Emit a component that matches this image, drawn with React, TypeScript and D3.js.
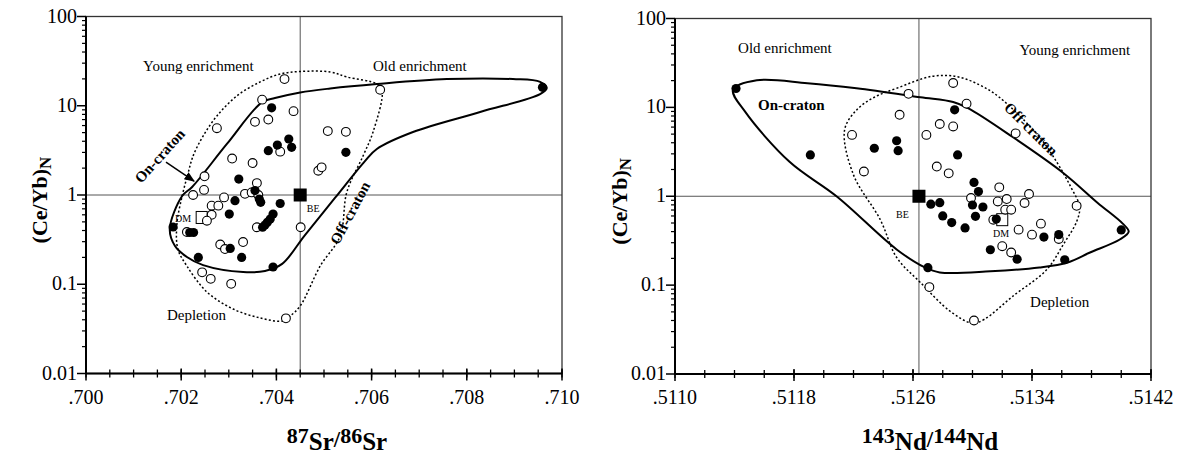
import React, { useEffect, useRef } from 'react';
import * as d3 from 'd3';

type Pt = [number, number];

// ---- 87Sr/86Sr panel ----
const srOpen: Pt[] = [
  [0.70417, 19.9], [0.7037, 11.7], [0.70436, 8.7], [0.70355, 6.6], [0.70383, 7.0],
  [0.70275, 5.6], [0.70508, 5.2], [0.70546, 5.1], [0.70618, 15.1], [0.70408, 3.06],
  [0.70307, 2.56], [0.7035, 2.28], [0.70488, 1.87], [0.70495, 2.04], [0.70249, 1.62],
  [0.70359, 1.36], [0.70225, 1.0], [0.70248, 1.14], [0.70334, 1.03], [0.70348, 1.07],
  [0.70362, 1.0], [0.7029, 0.94], [0.70264, 0.76], [0.70278, 0.76], [0.70264, 0.6],
  [0.70254, 0.515], [0.70359, 0.435], [0.70451, 0.435], [0.70212, 0.385], [0.70282, 0.279],
  [0.70292, 0.248], [0.7033, 0.297], [0.70244, 0.136], [0.70262, 0.115], [0.70305, 0.101],
  [0.7042, 0.0415],
];
const srFilled: Pt[] = [
  [0.7039, 9.49], [0.70426, 4.24], [0.70402, 3.63], [0.70383, 3.14], [0.70432, 3.42],
  [0.70546, 3.01], [0.70959, 16.1], [0.70321, 1.51], [0.70355, 1.12], [0.70313, 0.863],
  [0.70364, 0.902], [0.70367, 0.828], [0.70408, 0.803], [0.70301, 0.612], [0.70393, 0.612],
  [0.70387, 0.538], [0.70381, 0.494], [0.70376, 0.461], [0.70371, 0.435], [0.70183, 0.438],
  [0.70218, 0.38], [0.70226, 0.38], [0.70303, 0.252], [0.70327, 0.2], [0.70236, 0.2],
  [0.70393, 0.156],
];
const srOnCraton: Pt[] = [
  [0.70176, 0.416], [0.70202, 0.974], [0.70223, 1.23], [0.70296, 3.73], [0.7037, 11.0],
  [0.70397, 12.2], [0.7045, 14.1], [0.70513, 15.6], [0.70611, 17.5], [0.70758, 19.9],
  [0.70897, 19.9], [0.70954, 18.5], [0.70968, 15.8], [0.70954, 13.5], [0.70828, 8.51],
  [0.70687, 5.08], [0.70611, 3.28], [0.70586, 2.4], [0.70523, 0.926], [0.7046, 0.356],
  [0.70412, 0.169], [0.70376, 0.141], [0.7033, 0.137], [0.70246, 0.164], [0.70212, 0.202],
  [0.70187, 0.268],
];
const srOffCraton: Pt[] = [
  [0.70214, 1.72], [0.70225, 2.74], [0.70246, 4.58], [0.70275, 7.68], [0.70317, 12.9],
  [0.70366, 18.5], [0.70408, 22.7], [0.7045, 24.2], [0.70513, 23.9], [0.70548, 21.0],
  [0.70611, 17.5], [0.70622, 14.6], [0.70603, 5.08], [0.70582, 2.74], [0.70548, 1.08],
  [0.70534, 0.347], [0.70492, 0.16], [0.7045, 0.0571], [0.70429, 0.0441], [0.70414, 0.0388],
  [0.70366, 0.0419], [0.70309, 0.0528], [0.70254, 0.0819], [0.70212, 0.16], [0.70193, 0.248],
  [0.70191, 0.473], [0.70202, 0.974],
];
const srBulkEarth: Pt = [0.7045, 1];
const srDM: Pt = [0.70243, 0.56];
const srMajor = [0.7, 0.702, 0.704, 0.706, 0.708, 0.71];
const srTickLabels = ['.700', '.702', '.704', '.706', '.708', '.710'];

// ---- 143Nd/144Nd panel ----
const ndOpen: Pt[] = [
  [0.51287, 18.8], [0.51257, 14.2], [0.51296, 11.0], [0.51251, 8.25], [0.51278, 6.5],
  [0.51287, 6.1], [0.51269, 4.9], [0.51329, 5.1], [0.51219, 4.9], [0.51227, 1.9],
  [0.51276, 2.16], [0.51284, 1.81], [0.51318, 1.26], [0.51338, 1.06], [0.51335, 0.84],
  [0.5137, 0.78], [0.51299, 0.955], [0.51317, 0.874], [0.51323, 0.93], [0.51322, 0.706],
  [0.51326, 0.706], [0.51314, 0.545], [0.51346, 0.492], [0.51331, 0.421], [0.5134, 0.37],
  [0.51358, 0.331], [0.5132, 0.274], [0.51326, 0.233], [0.51271, 0.095], [0.51301, 0.04],
];
const ndFilled: Pt[] = [
  [0.51141, 16.3], [0.51191, 2.92], [0.51234, 3.47], [0.51288, 9.39], [0.51249, 4.21],
  [0.5125, 3.26], [0.5129, 2.92], [0.51301, 1.43], [0.51304, 1.13], [0.51272, 0.814],
  [0.51278, 0.846], [0.513, 0.797], [0.51307, 0.757], [0.5128, 0.6], [0.51286, 0.505],
  [0.51302, 0.594], [0.51316, 0.555], [0.51295, 0.44], [0.514, 0.418], [0.51348, 0.347],
  [0.51358, 0.37], [0.51312, 0.25], [0.5133, 0.196], [0.51362, 0.193], [0.5127, 0.157],
];
const ndOnCraton: Pt[] = [
  [0.51139, 15.8], [0.51155, 20.2], [0.51189, 18.7], [0.51222, 16.4],
  [0.51265, 13.0], [0.51287, 11.5], [0.51297, 9.81], [0.51327, 4.64], [0.51361, 1.83],
  [0.51384, 0.846], [0.51401, 0.492], [0.51405, 0.4], [0.51399, 0.326], [0.51379, 0.233],
  [0.51364, 0.18], [0.51345, 0.158], [0.51312, 0.143], [0.51278, 0.139], [0.51268, 0.158],
  [0.51249, 0.252], [0.51209, 0.987], [0.51177, 2.44], [0.51147, 9.0],
];
const ndOffCraton: Pt[] = [
  [0.51234, 13.0], [0.51249, 16.4], [0.51273, 22.4], [0.5129, 22.1], [0.51305, 17.8],
  [0.51318, 13.0], [0.51345, 4.64], [0.51357, 2.37], [0.51366, 1.28], [0.51372, 0.763],
  [0.5137, 0.518], [0.51361, 0.286], [0.5135, 0.15], [0.51327, 0.0748], [0.51308, 0.0413],
  [0.513, 0.0373], [0.51285, 0.0508], [0.51265, 0.107], [0.51249, 0.205], [0.51238, 0.545],
  [0.5122, 1.74], [0.51214, 5.56], [0.51222, 9.31],
];
const ndBulkEarth: Pt = [0.51264, 1];
const ndDM: Pt = [0.5132, 0.545];
const ndMajor = [0.511, 0.5118, 0.5126, 0.5134, 0.5142];
const ndTickLabels = ['.5110', '.5118', '.5126', '.5134', '.5142'];

// shared y axis
const yMajor = [0.01, 0.1, 1, 10, 100];
const yTickLabels = ['0.01', '0.1', '1', '10', '100'];

const FONT = '"Liberation Serif", "Times New Roman", serif';

const App = () => {
  const svgRef = useRef<SVGSVGElement>(null);

  useEffect(() => {
    const svg = d3.select(svgRef.current);
    svg.selectAll('*').remove();

    svg.append('defs').append('marker')
      .attr('id', 'arrowhead')
      .attr('viewBox', '0 0 10 10')
      .attr('refX', 9).attr('refY', 5)
      .attr('markerWidth', 7).attr('markerHeight', 7)
      .attr('orient', 'auto')
      .append('path').attr('d', 'M0,1 L10,5 L0,9 z').attr('fill', '#000');

    const panels = [
      {
        xDomain: [0.7, 0.71], xRange: [86, 562], yRange: [373.5, 16.5],
        open: srOpen, filled: srFilled, on: srOnCraton, off: srOffCraton,
        be: srBulkEarth, dm: srDM, major: srMajor, tickLabels: srTickLabels, minorStep: 0.0005,
        yTitleX: 47, xTitleX: 337, iso: ['87', 'Sr', '86', 'Sr'],
        notes: [
          { t: 'Young enrichment', x: 0.7012, y: 24.5 },
          { t: 'Old enrichment', x: 0.70603, y: 24.5 },
          { t: 'Depletion', x: 0.7017, y: 0.0398 },
          { t: 'On-craton', x: 0.70155, y: 2.74, rot: -48, bold: true },
          { t: 'Off-craton', x: 0.70555, y: 0.628, rot: -62, bold: true },
          { t: 'BE', x: 0.70464, y: 0.645, small: true },
          { t: 'DM', x: 0.70187, y: 0.498, small: true },
        ],
        arrow: [[0.70168, 2.34], [0.70227, 1.43]] as Pt[],
      },
      {
        xDomain: [0.511, 0.5142], xRange: [675, 1151], yRange: [374, 18.5],
        open: ndOpen, filled: ndFilled, on: ndOnCraton, off: ndOffCraton,
        be: ndBulkEarth, dm: ndDM, major: ndMajor, tickLabels: ndTickLabels, minorStep: 0.0002,
        yTitleX: 627, xTitleX: 930, iso: ['143', 'Nd', '144', 'Nd'],
        notes: [
          { t: 'Old enrichment', x: 0.511424, y: 40.5 },
          { t: 'On-craton', x: 0.511558, y: 9.31, bold: true },
          { t: 'Young enrichment', x: 0.513316, y: 38.5 },
          { t: 'Off-craton', x: 0.513393, y: 5.71, rot: 45, bold: true },
          { t: 'Depletion', x: 0.513387, y: 0.0563 },
          { t: 'BE', x: 0.512486, y: 0.574, small: true },
          { t: 'DM', x: 0.513138, y: 0.352, small: true },
        ],
        arrow: null as Pt[] | null,
      },
    ];

    panels.forEach((p) => {
      const x = d3.scaleLinear().domain(p.xDomain).range(p.xRange);
      const y = d3.scaleLog().domain([0.01, 100]).range(p.yRange);
      const [x0, x1] = p.xRange;
      const [yb, yt] = p.yRange;
      const g = svg.append('g');

      // reference lines through bulk earth
      g.append('line')
        .attr('x1', x0).attr('x2', x1).attr('y1', y(1)).attr('y2', y(1))
        .attr('stroke', '#555').attr('stroke-width', 1);
      g.append('line')
        .attr('x1', x(p.be[0])).attr('x2', x(p.be[0])).attr('y1', yb).attr('y2', yt)
        .attr('stroke', '#555').attr('stroke-width', 1);

      const line = d3.line<Pt>()
        .x((d) => x(d[0]))
        .y((d) => y(d[1]))
        .curve(d3.curveCatmullRomClosed.alpha(0.5));

      g.append('path').attr('d', line(p.off))
        .attr('fill', 'none').attr('stroke', '#000')
        .attr('stroke-width', 1.5).attr('stroke-dasharray', '2,2.2');
      g.append('path').attr('d', line(p.on))
        .attr('fill', 'none').attr('stroke', '#000').attr('stroke-width', 2);

      // depleted mantle box
      g.append('rect')
        .attr('x', x(p.dm[0]) - 5.5).attr('y', y(p.dm[1]) - 6)
        .attr('width', 11).attr('height', 12)
        .attr('fill', '#fff').attr('stroke', '#000').attr('stroke-width', 1);

      g.selectAll('.open').data(p.open).enter().append('circle')
        .attr('cx', (d) => x(d[0])).attr('cy', (d) => y(d[1])).attr('r', 4.4)
        .attr('fill', '#fff').attr('stroke', '#000').attr('stroke-width', 1.1);
      g.selectAll('.filled').data(p.filled).enter().append('circle')
        .attr('cx', (d) => x(d[0])).attr('cy', (d) => y(d[1])).attr('r', 4.6)
        .attr('fill', '#000');

      // bulk earth square
      g.append('rect')
        .attr('x', x(p.be[0]) - 6.5).attr('y', y(p.be[1]) - 6.5)
        .attr('width', 13).attr('height', 13).attr('fill', '#000');

      // annotations
      p.notes.forEach((n: any) => {
        const tx = x(n.x);
        const ty = y(n.y);
        const t = g.append('text')
          .attr('font-family', FONT)
          .attr('font-size', n.small ? 10 : 15)
          .attr('font-weight', n.bold ? 'bold' : 'normal')
          .text(n.t);
        if (n.rot !== undefined) {
          t.attr('text-anchor', 'middle').attr('dominant-baseline', 'central')
            .attr('transform', `translate(${tx},${ty}) rotate(${n.rot})`);
        } else {
          t.attr('x', tx).attr('y', ty);
        }
      });

      if (p.arrow) {
        g.append('line')
          .attr('x1', x(p.arrow[0][0])).attr('y1', y(p.arrow[0][1]))
          .attr('x2', x(p.arrow[1][0])).attr('y2', y(p.arrow[1][1]))
          .attr('stroke', '#000').attr('stroke-width', 1.5)
          .attr('marker-end', 'url(#arrowhead)');
      }

      // frame
      g.append('rect')
        .attr('x', x0).attr('y', yt).attr('width', x1 - x0).attr('height', yb - yt)
        .attr('fill', 'none').attr('stroke', '#333').attr('stroke-width', 1.3);
      g.append('line').attr('x1', x0).attr('x2', x0).attr('y1', yt).attr('y2', yb)
        .attr('stroke', '#000').attr('stroke-width', 2);
      g.append('line').attr('x1', x0).attr('x2', x1).attr('y1', yb).attr('y2', yb)
        .attr('stroke', '#000').attr('stroke-width', 2);

      // x ticks
      const minor = d3.range(p.xDomain[0], p.xDomain[1] + p.minorStep / 2, p.minorStep);
      g.selectAll('.xminor').data(minor).enter().append('line')
        .attr('x1', (d) => x(d)).attr('x2', (d) => x(d))
        .attr('y1', yb - 4).attr('y2', yb + 4)
        .attr('stroke', '#000').attr('stroke-width', 1.3);
      g.selectAll('.xmajor').data(p.major).enter().append('line')
        .attr('x1', (d) => x(d)).attr('x2', (d) => x(d))
        .attr('y1', yb - 5).attr('y2', yb + 7)
        .attr('stroke', '#000').attr('stroke-width', 1.5);
      g.selectAll('.xlab').data(p.major).enter().append('text')
        .attr('x', (d) => x(d)).attr('y', yb + 30)
        .attr('text-anchor', 'middle')
        .attr('font-family', FONT).attr('font-size', 20)
        .text((d, i) => p.tickLabels[i]);

      // y ticks (log)
      const yMinor: number[] = [];
      yMajor.slice(0, -1).forEach((dec) => {
        d3.range(2, 10).forEach((m) => yMinor.push(dec * m));
      });
      g.selectAll('.yminor').data(yMinor).enter().append('line')
        .attr('x1', x0 - 4).attr('x2', x0)
        .attr('y1', (d) => y(d)).attr('y2', (d) => y(d))
        .attr('stroke', '#000').attr('stroke-width', 1.2);
      g.selectAll('.ymajor').data(yMajor).enter().append('line')
        .attr('x1', x0 - 9).attr('x2', x0)
        .attr('y1', (d) => y(d)).attr('y2', (d) => y(d))
        .attr('stroke', '#000').attr('stroke-width', 1.5);
      g.selectAll('.ylab').data(yMajor).enter().append('text')
        .attr('x', x0 - 9).attr('y', (d) => y(d) + 6)
        .attr('text-anchor', 'end')
        .attr('font-family', FONT).attr('font-size', 20)
        .text((d, i) => yTickLabels[i]);

      // y title (Ce/Yb)N
      const yt2 = g.append('text')
        .attr('transform', `translate(${p.yTitleX},${(yt + yb) / 2 + 5}) rotate(-90)`)
        .attr('text-anchor', 'middle')
        .attr('font-family', FONT).attr('font-weight', 'bold').attr('font-size', 22);
      yt2.append('tspan').text('(Ce/Yb)');
      yt2.append('tspan').attr('font-size', 17).attr('dy', 4).text('N');

      // x title isotope ratio
      const xt = g.append('text')
        .attr('x', p.xTitleX).attr('y', 450)
        .attr('text-anchor', 'middle')
        .attr('font-family', FONT).attr('font-weight', 'bold');
      xt.append('tspan').attr('font-size', 22).attr('dy', -7).text(p.iso[0]);
      xt.append('tspan').attr('font-size', 25).attr('dy', 7).text(p.iso[1]);
      xt.append('tspan').attr('font-size', 23).attr('dy', -3).text('/');
      xt.append('tspan').attr('font-size', 22).attr('dy', -4).text(p.iso[2]);
      xt.append('tspan').attr('font-size', 25).attr('dy', 7).text(p.iso[3]);
    });
  }, []);

  return (
    <svg
      ref={svgRef}
      width={1184}
      height={454}
      style={{ position: 'absolute', left: 0, top: 0, background: '#fff' }}
    />
  );
};

export default App;
